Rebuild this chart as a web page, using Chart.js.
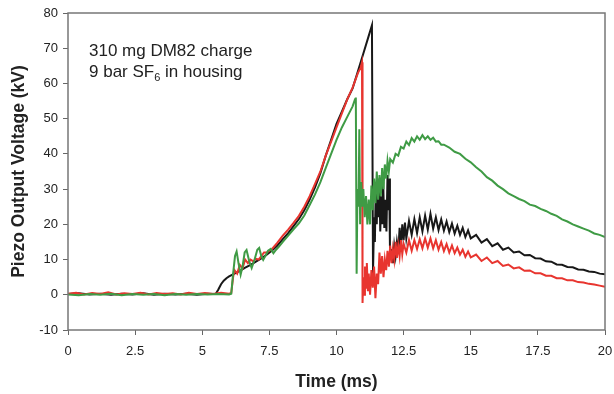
<!DOCTYPE html>
<html>
<head>
<meta charset="utf-8">
<script src="https://cdn.jsdelivr.net/npm/chart.js"></script>
<style>
  html, body { margin: 0; padding: 0; background: #fff; }
</style>
</head>
<body>
<canvas id="piezoChart" width="614" height="394"></canvas>
<script>
// time (ms), voltage (kV)
const blackTrace = [
  [0,0.2],[0.4,0.4],[0.8,0.1],[1.2,0.3],[1.6,0.0],[2.0,0.3],[2.4,0.1],[2.8,0.4],[3.2,0.0],[3.6,0.3],
  [4.0,0.1],[4.4,0.3],[4.8,0.0],[5.2,0.3],[5.5,0.2],[5.6,1.5],[5.7,3],[5.8,4],[5.9,4.7],[6.0,5.2],
  [6.2,6],[6.4,6.8],[6.6,7.7],[6.8,8.5],[7.0,9.4],[7.2,10.3],[7.4,11.4],[7.6,12.6],[7.8,14],[8.0,15.8],
  [8.2,17.5],[8.4,19.5],[8.6,21.5],[8.8,24],[9.0,27],[9.2,30.5],[9.4,34.5],[9.6,39.5],[9.8,44],[10.0,48.5],
  [10.2,52],[10.4,55.5],[10.6,58.6],[10.8,63.5],[11.0,68.5],[11.2,73.5],[11.32,76.5],[11.36,6.2],
  [11.4,22],[11.43,15],[11.46,30],[11.5,20],[11.53,33],[11.57,22],[11.6,30],[11.63,18],[11.67,28],[11.7,20],
  [11.74,32],[11.78,19],[11.82,27],[11.86,18],[11.9,34],[11.93,24],[11.96,33],[11.99,14],[12.02,10],[12.06,13],
  [12.1,9],[12.15,14],[12.2,11],[12.25,15],[12.3,12],[12.35,19],[12.4,14],[12.45,20],[12.5,15.5],[12.55,20.5],
  [12.6,16],[12.7,21],[12.8,17],[12.9,21.5],[13.0,17.5],[13.1,22],[13.2,18],[13.3,22.5],[13.4,18.5],[13.5,23],
  [13.6,18.8],[13.7,22],[13.8,18.4],[13.9,21.4],[14.0,18.2],[14.1,20.8],[14.2,17.8],[14.3,20.2],[14.4,17.4],[14.5,19.6],
  [14.6,17],[14.7,19],[14.8,16.4],[14.9,18.3],[15.0,16],[15.2,17],[15.4,14.8],[15.6,15.8],[15.8,13.8],[16.0,14.6],
  [16.2,12.8],[16.4,13.4],[16.6,12],[16.8,12.3],[17.0,11.2],[17.2,11.3],[17.4,10.4],[17.6,10.3],[17.8,9.5],[18.0,9.4],
  [18.2,8.6],[18.4,8.5],[18.6,7.9],[18.8,7.8],[19.0,7.2],[19.2,7.1],[19.4,6.6],[19.6,6.5],[19.8,6],[20,5.8]
];

const redTrace = [
  [0,0.3],[0.3,0.6],[0.6,0.1],[0.9,0.5],[1.2,0.2],[1.5,0.7],[1.8,0.1],[2.1,0.4],[2.4,0.2],[2.7,0.6],
  [3.0,0.1],[3.3,0.5],[3.6,0.2],[3.9,0.4],[4.2,0.1],[4.5,0.6],[4.8,0.2],[5.1,0.5],[5.4,0.2],[5.7,0.6],
  [6.0,0.3],[6.08,0.5],[6.15,5],[6.2,7],[6.3,6],[6.4,8.5],[6.5,7.5],[6.6,10],[6.7,9],[6.8,10],
  [6.9,9.5],[7.0,10.2],[7.1,10],[7.2,11],[7.3,12],[7.4,12],[7.6,13],[7.8,14.8],[8.0,16.8],[8.2,18.5],
  [8.4,20.4],[8.6,22.4],[8.8,25],[9.0,28],[9.2,31.5],[9.4,35],[9.6,39.5],[9.8,43.5],[10.0,47.5],[10.2,51.5],
  [10.4,55.5],[10.6,58.8],[10.8,63],[10.9,64.5],[10.95,66],[10.97,-2.3],[11.0,5],[11.03,0],[11.06,8],[11.1,2],
  [11.13,9],[11.17,1],[11.2,6],[11.25,0],[11.3,7],[11.35,2],[11.4,8],[11.45,-1],[11.5,6],[11.55,3],
  [11.6,12],[11.65,6],[11.7,11],[11.75,5],[11.8,10],[11.85,7],[11.9,12.5],[11.95,8],[12.0,14],[12.05,9],
  [12.1,13],[12.15,10],[12.2,15],[12.25,10.5],[12.3,14],[12.35,11],[12.4,15.5],[12.45,11.5],[12.5,14.5],[12.6,12],
  [12.7,15.5],[12.8,12.5],[12.9,15.5],[13.0,13],[13.1,15.8],[13.2,13.2],[13.3,16],[13.4,13.4],[13.5,16],[13.6,13.2],
  [13.7,15.5],[13.8,12.8],[13.9,15],[14.0,12.4],[14.1,14.4],[14.2,12],[14.3,14],[14.4,11.8],[14.5,13.4],[14.6,11.4],
  [14.7,12.8],[14.8,10.8],[14.9,12.3],[15.0,10.6],[15.2,11.4],[15.4,9.6],[15.6,10.6],[15.8,9],[16.0,9.6],[16.2,8.2],
  [16.4,8.6],[16.6,7.5],[16.8,7.8],[17.0,6.8],[17.2,6.9],[17.4,6.1],[17.6,6.1],[17.8,5.4],[18.0,5.4],[18.2,4.7],
  [18.4,4.7],[18.6,4.1],[18.8,4.1],[19.0,3.6],[19.2,3.5],[19.4,3.1],[19.6,2.9],[19.8,2.6],[20,2.3]
];

const greenTrace = [
  [0,0.1],[0.4,-0.1],[0.8,0.2],[1.2,0.0],[1.6,0.3],[2.0,-0.1],[2.4,0.2],[2.8,0.0],[3.2,0.2],[3.6,-0.1],
  [4.0,0.2],[4.4,0.0],[4.8,0.2],[5.2,0.1],[5.6,0.2],[6.0,0.1],[6.08,0.3],[6.15,6],[6.22,11],[6.28,12.3],
  [6.35,9],[6.43,5.7],[6.5,8],[6.58,12],[6.65,12.7],[6.75,9.5],[6.84,7.6],[6.95,10],[7.05,12.8],[7.12,13.3],
  [7.2,11],[7.27,9.9],[7.35,11],[7.45,12.5],[7.55,13],[7.65,11.8],[7.75,12.8],[7.85,13.6],[8.0,15],[8.2,16.8],
  [8.4,18.6],[8.6,20.3],[8.8,22.5],[9.0,25.5],[9.2,28.5],[9.4,32],[9.6,36],[9.8,40],[10.0,44],[10.2,47.5],
  [10.4,50.5],[10.5,52],[10.6,53.5],[10.69,55.5],[10.72,56],[10.75,6],[10.78,30],[10.82,25],[10.85,47],[10.88,20],
  [10.92,32],[10.96,25],[11.0,30],[11.05,22],[11.1,28],[11.15,20],[11.2,27],[11.25,20],[11.3,31],[11.35,24],
  [11.4,33],[11.45,26],[11.5,35],[11.55,27],[11.6,34],[11.65,28],[11.7,36],[11.75,30],[11.8,37],[11.85,33],
  [11.9,38],[11.95,35],[12.0,38.5],[12.1,37.5],[12.2,40],[12.3,39.5],[12.4,42],[12.5,41.5],[12.6,43.5],[12.7,42.5],
  [12.8,44.5],[12.9,43.5],[13.0,45],[13.1,44],[13.2,45.3],[13.3,44.2],[13.4,45],[13.5,44],[13.6,44.6],[13.7,43.5],
  [13.8,43.6],[13.9,42.6],[14.0,42.6],[14.2,41.8],[14.4,40.6],[14.6,40],[14.8,38.6],[15.0,37.6],[15.2,36.2],[15.4,35],
  [15.6,33.4],[15.8,32.4],[16.0,31],[16.2,30],[16.4,28.8],[16.6,28],[16.8,27.2],[17.0,26.6],[17.2,25.6],[17.4,25.2],
  [17.6,24.4],[17.8,23.8],[18.0,23],[18.2,22.4],[18.4,21.4],[18.6,20.8],[18.8,20],[19.0,19.4],[19.2,18.8],[19.4,18.2],
  [19.6,17.4],[19.8,17],[20,16.4]
];

const noteLines = ["310 mg DM82 charge", "9 bar SF", "6", " in housing"];

const toPoints = (trace) => trace.map(([t, v]) => ({ x: t, y: v }));

const FONT = "'Liberation Sans', Arial, sans-serif";

// grey box round the plot area
const plotFrame = {
  id: "plotFrame",
  afterDraw(chart) {
    const { ctx, chartArea: a } = chart;
    ctx.save();
    ctx.strokeStyle = "#777";
    ctx.lineWidth = 1.5;
    ctx.strokeRect(a.left, a.top, a.right - a.left, a.bottom - a.top);
    ctx.restore();
  },
};

// text box in the top left corner
const chargeNote = {
  id: "chargeNote",
  afterDraw(chart) {
    const ctx = chart.ctx;
    const x0 = chart.chartArea.left + 21;
    ctx.save();
    ctx.fillStyle = "#222";
    ctx.textBaseline = "alphabetic";
    ctx.font = "17px " + FONT;
    ctx.fillText(noteLines[0], x0, 56);
    let x = x0;
    ctx.fillText(noteLines[1], x, 77);
    x += ctx.measureText(noteLines[1]).width;
    ctx.font = "11px " + FONT;
    ctx.fillText(noteLines[2], x, 81);
    x += ctx.measureText(noteLines[2]).width;
    ctx.font = "17px " + FONT;
    ctx.fillText(noteLines[3], x, 77);
    ctx.restore();
  },
};

new Chart(document.getElementById("piezoChart"), {
  type: "line",
  data: {
    datasets: [
      { label: "green", data: toPoints(greenTrace), borderColor: "#3f9b45" },
      { label: "red", data: toPoints(redTrace), borderColor: "#e8352f" },
      { label: "black", data: toPoints(blackTrace), borderColor: "#181818" },
    ],
  },
  options: {
    responsive: false,
    animation: false,
    layout: { padding: { top: 13, right: 9, left: 0, bottom: 0 } },
    elements: {
      point: { radius: 0 },
      line: { borderWidth: 2, tension: 0 },
    },
    plugins: {
      legend: { display: false },
      tooltip: { enabled: false },
    },
    scales: {
      x: {
        type: "linear",
        min: 0,
        max: 20,
        border: { display: false },
        grid: { drawOnChartArea: false, tickLength: 5, color: "#666" },
        ticks: { stepSize: 2.5, padding: 9, color: "#222", font: { family: FONT, size: 13 } },
        title: {
          display: true,
          text: "Time (ms)",
          color: "#222",
          padding: { top: 0, bottom: 1 },
          font: { family: FONT, size: 17.5, weight: "bold" },
        },
        afterFit(scale) {
          scale.height = 64;
          scale.paddingLeft = 0;
          scale.paddingRight = 0;
        },
      },
      y: {
        min: -10,
        max: 80,
        border: { display: false },
        grid: { drawOnChartArea: false, tickLength: 5, color: "#666" },
        ticks: { stepSize: 10, padding: 5, color: "#222", font: { family: FONT, size: 13 } },
        title: {
          display: true,
          text: "Piezo Output Voltage (kV)",
          color: "#222",
          padding: { top: 9, bottom: 0 },
          font: { family: FONT, size: 17.5, weight: "bold" },
        },
        afterFit(scale) {
          scale.width = 68;
          scale.paddingTop = 0;
          scale.paddingBottom = 0;
        },
      },
    },
  },
  plugins: [plotFrame, chargeNote],
});
</script>
</body>
</html>
